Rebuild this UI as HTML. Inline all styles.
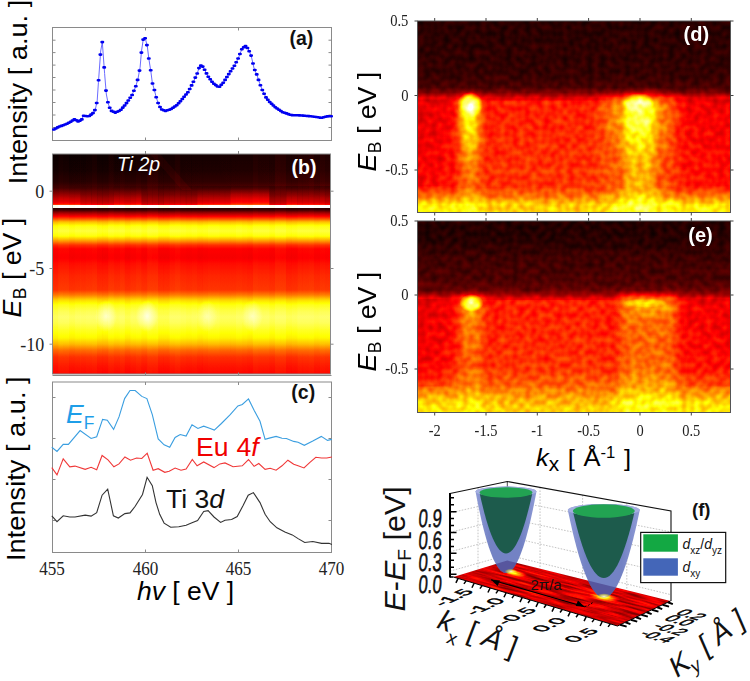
<!DOCTYPE html>
<html><head><meta charset="utf-8"><style>
html,body{margin:0;padding:0;background:#fff;width:750px;height:681px;overflow:hidden}
svg{display:block}
</style></head><body>
<svg width="750" height="681" viewBox="0 0 750 681">
<defs>
<filter id="hot" x="0" y="0" width="1" height="1" color-interpolation-filters="sRGB"><feComponentTransfer><feFuncR type="table" tableValues="0 .3333 .6667 1 1 1 1 1 1"/><feFuncG type="table" tableValues="0 0 0 0 .3333 .6667 1 1 1"/><feFuncB type="table" tableValues="0 0 0 0 0 0 0 .5 1"/></feComponentTransfer></filter>
<filter id="hotn" x="0" y="0" width="1" height="1" color-interpolation-filters="sRGB"><feOffset in="SourceGraphic" result="b"/><feTurbulence type="fractalNoise" baseFrequency="0.16" numOctaves="1" seed="3" result="n"/><feColorMatrix in="n" type="matrix" values="1 0 0 0 0  1 0 0 0 0  1 0 0 0 0  0 0 0 0 1" result="ng"/><feComposite in="b" in2="ng" operator="arithmetic" k1="0.26" k2="0.87" k3="0.1" k4="-0.05" result="s"/><feComponentTransfer in="s"><feFuncR type="table" tableValues="0 .3333 .6667 1 1 1 1 1 1"/><feFuncG type="table" tableValues="0 0 0 0 .3333 .6667 1 1 1"/><feFuncB type="table" tableValues="0 0 0 0 0 0 0 .5 1"/><feFuncA type="linear" slope="0" intercept="1"/></feComponentTransfer></filter>
<filter id="hotn2" x="0" y="0" width="1" height="1" color-interpolation-filters="sRGB"><feOffset in="SourceGraphic" result="b"/><feTurbulence type="fractalNoise" baseFrequency="0.16" numOctaves="1" seed="11" result="n"/><feColorMatrix in="n" type="matrix" values="1 0 0 0 0  1 0 0 0 0  1 0 0 0 0  0 0 0 0 1" result="ng"/><feComposite in="b" in2="ng" operator="arithmetic" k1="0.26" k2="0.87" k3="0.1" k4="-0.05" result="s"/><feComponentTransfer in="s"><feFuncR type="table" tableValues="0 .3333 .6667 1 1 1 1 1 1"/><feFuncG type="table" tableValues="0 0 0 0 .3333 .6667 1 1 1"/><feFuncB type="table" tableValues="0 0 0 0 0 0 0 .5 1"/><feFuncA type="linear" slope="0" intercept="1"/></feComponentTransfer></filter>
<filter id="bl4" x="-0.5" y="-0.5" width="2" height="2"><feGaussianBlur stdDeviation="5"/></filter>
<linearGradient id="gb" gradientUnits="userSpaceOnUse" x1="0" y1="154" x2="0" y2="374"><stop offset="0.0000" stop-color="#050505"/><stop offset="0.0727" stop-color="#080808"/><stop offset="0.1273" stop-color="#0f0f0f"/><stop offset="0.1545" stop-color="#1a1a1a"/><stop offset="0.1773" stop-color="#333333"/><stop offset="0.2000" stop-color="#4c4c4c"/><stop offset="0.2182" stop-color="#5c5c5c"/><stop offset="0.2273" stop-color="#6b6b6b"/><stop offset="0.2323" stop-color="#8c8c8c"/><stop offset="0.2327" stop-color="#ffffff"/><stop offset="0.2432" stop-color="#ffffff"/><stop offset="0.2436" stop-color="#0d0d0d"/><stop offset="0.2545" stop-color="#171717"/><stop offset="0.2682" stop-color="#3d3d3d"/><stop offset="0.2818" stop-color="#5c5c5c"/><stop offset="0.2955" stop-color="#808080"/><stop offset="0.3091" stop-color="#a8a8a8"/><stop offset="0.3273" stop-color="#c4c4c4"/><stop offset="0.3500" stop-color="#cfcfcf"/><stop offset="0.3727" stop-color="#c2c2c2"/><stop offset="0.3955" stop-color="#999999"/><stop offset="0.4136" stop-color="#737373"/><stop offset="0.4318" stop-color="#616161"/><stop offset="0.4727" stop-color="#5e5e5e"/><stop offset="0.5000" stop-color="#666666"/><stop offset="0.5500" stop-color="#6e6e6e"/><stop offset="0.6182" stop-color="#757575"/><stop offset="0.6409" stop-color="#8f8f8f"/><stop offset="0.6636" stop-color="#b2b2b2"/><stop offset="0.6864" stop-color="#c7c7c7"/><stop offset="0.7136" stop-color="#d4d4d4"/><stop offset="0.7409" stop-color="#dbdbdb"/><stop offset="0.7682" stop-color="#d6d6d6"/><stop offset="0.8000" stop-color="#c9c9c9"/><stop offset="0.8364" stop-color="#bdbdbd"/><stop offset="0.8636" stop-color="#a8a8a8"/><stop offset="0.8909" stop-color="#8a8a8a"/><stop offset="0.9227" stop-color="#737373"/><stop offset="0.9636" stop-color="#696969"/><stop offset="1.0000" stop-color="#636363"/></linearGradient>
<linearGradient id="bfg" x1="0" y1="0" x2="0" y2="1"><stop offset="0" stop-color="#000"/><stop offset="0.45" stop-color="#fff"/><stop offset="1" stop-color="#fff"/></linearGradient>
<mask id="bfade" maskContentUnits="userSpaceOnUse"><rect x="0" y="186" width="750" height="19" fill="url(#bfg)"/></mask>
<linearGradient id="bhz" x1="0" y1="0" x2="1" y2="0"><stop offset="0" stop-color="#fff" stop-opacity="0"/><stop offset="1" stop-color="#fff" stop-opacity="0.03"/></linearGradient>
<radialGradient id="wsp"><stop offset="0" stop-color="#fff" stop-opacity="0.85"/><stop offset="1" stop-color="#fff" stop-opacity="0"/></radialGradient>
<radialGradient id="rg"><stop offset="0" stop-color="#fff" stop-opacity="1"/><stop offset="0.25" stop-color="#fff" stop-opacity="0.72"/><stop offset="0.6" stop-color="#fff" stop-opacity="0.45"/><stop offset="1" stop-color="#fff" stop-opacity="0"/></radialGradient>
<linearGradient id="gd" gradientUnits="userSpaceOnUse" x1="0" y1="9" x2="0" y2="224.5"><stop offset="0.0000" stop-color="#0f0f0f"/><stop offset="0.1485" stop-color="#111111"/><stop offset="0.2993" stop-color="#141414"/><stop offset="0.3643" stop-color="#1c1c1c"/><stop offset="0.3875" stop-color="#2e2e2e"/><stop offset="0.4107" stop-color="#545454"/><stop offset="0.4385" stop-color="#616161"/><stop offset="0.6102" stop-color="#666666"/><stop offset="0.8283" stop-color="#6c6c6c"/><stop offset="0.8747" stop-color="#919191"/><stop offset="0.9072" stop-color="#b8b8b8"/><stop offset="1.0000" stop-color="#c2c2c2"/></linearGradient>
<linearGradient id="hmd" gradientUnits="userSpaceOnUse" x1="405.5" y1="0" x2="742.5" y2="0"><stop offset="0.0000" stop-color="#000" stop-opacity="0.14"/><stop offset="0.1024" stop-color="#000" stop-opacity="0.09"/><stop offset="0.1499" stop-color="#000" stop-opacity="0.0"/><stop offset="0.5772" stop-color="#000" stop-opacity="0.0"/><stop offset="0.8145" stop-color="#000" stop-opacity="0.03"/><stop offset="1.0000" stop-color="#000" stop-opacity="0.09"/></linearGradient>
<linearGradient id="mod" gradientUnits="userSpaceOnUse" x1="405.5" y1="0" x2="742.5" y2="0"><stop offset="0.1914" stop-color="#8a8a8a" stop-opacity="0"/><stop offset="0.2804" stop-color="#8a8a8a" stop-opacity="0.25"/><stop offset="0.5772" stop-color="#8a8a8a" stop-opacity="0.25"/><stop offset="0.6513" stop-color="#8a8a8a" stop-opacity="0"/></linearGradient>
<linearGradient id="lsd" gradientUnits="userSpaceOnUse" x1="0" y1="95.5" x2="0" y2="212.5"><stop offset="0.0000" stop-color="#fff" stop-opacity="0"/><stop offset="0.0342" stop-color="#fff" stop-opacity="1"/><stop offset="0.2137" stop-color="#fff" stop-opacity="0.95"/><stop offset="0.3846" stop-color="#fff" stop-opacity="0.75"/><stop offset="0.5556" stop-color="#fff" stop-opacity="0.45"/><stop offset="0.8291" stop-color="#fff" stop-opacity="0.25"/><stop offset="1.0000" stop-color="#fff" stop-opacity="0.3"/></linearGradient>
<linearGradient id="rsd" gradientUnits="userSpaceOnUse" x1="0" y1="95.5" x2="0" y2="212.5"><stop offset="0.0000" stop-color="#fff" stop-opacity="0"/><stop offset="0.0256" stop-color="#fff" stop-opacity="1"/><stop offset="0.2564" stop-color="#fff" stop-opacity="0.95"/><stop offset="0.3846" stop-color="#fff" stop-opacity="0.72"/><stop offset="0.5556" stop-color="#fff" stop-opacity="0.52"/><stop offset="0.8291" stop-color="#fff" stop-opacity="0.42"/><stop offset="1.0000" stop-color="#fff" stop-opacity="0.45"/></linearGradient>
<linearGradient id="ge" gradientUnits="userSpaceOnUse" x1="0" y1="209" x2="0" y2="424.5"><stop offset="0.0000" stop-color="#0d0d0d"/><stop offset="0.1485" stop-color="#0f0f0f"/><stop offset="0.2135" stop-color="#171717"/><stop offset="0.3295" stop-color="#1d1d1d"/><stop offset="0.3759" stop-color="#262626"/><stop offset="0.3944" stop-color="#383838"/><stop offset="0.4130" stop-color="#575757"/><stop offset="0.4362" stop-color="#616161"/><stop offset="0.6079" stop-color="#666666"/><stop offset="0.7355" stop-color="#6b6b6b"/><stop offset="0.8283" stop-color="#878787"/><stop offset="0.8979" stop-color="#b2b2b2"/><stop offset="1.0000" stop-color="#c2c2c2"/></linearGradient>
<linearGradient id="hme" gradientUnits="userSpaceOnUse" x1="405.5" y1="0" x2="742.5" y2="0"><stop offset="0.0000" stop-color="#000" stop-opacity="0.14"/><stop offset="0.1024" stop-color="#000" stop-opacity="0.09"/><stop offset="0.1499" stop-color="#000" stop-opacity="0.0"/><stop offset="0.5772" stop-color="#000" stop-opacity="0.0"/><stop offset="0.8145" stop-color="#000" stop-opacity="0.03"/><stop offset="1.0000" stop-color="#000" stop-opacity="0.09"/></linearGradient>
<linearGradient id="moe" gradientUnits="userSpaceOnUse" x1="405.5" y1="0" x2="742.5" y2="0"><stop offset="0.1914" stop-color="#8a8a8a" stop-opacity="0"/><stop offset="0.2804" stop-color="#8a8a8a" stop-opacity="0.25"/><stop offset="0.5772" stop-color="#8a8a8a" stop-opacity="0.25"/><stop offset="0.6513" stop-color="#8a8a8a" stop-opacity="0"/></linearGradient>
<linearGradient id="lse" gradientUnits="userSpaceOnUse" x1="0" y1="295" x2="0" y2="412.5"><stop offset="0.0000" stop-color="#fff" stop-opacity="0"/><stop offset="0.0340" stop-color="#fff" stop-opacity="1"/><stop offset="0.2128" stop-color="#fff" stop-opacity="0.75"/><stop offset="0.5106" stop-color="#fff" stop-opacity="0.45"/><stop offset="0.8298" stop-color="#fff" stop-opacity="0.3"/><stop offset="1.0000" stop-color="#fff" stop-opacity="0.3"/></linearGradient>
<linearGradient id="rse" gradientUnits="userSpaceOnUse" x1="0" y1="295" x2="0" y2="412.5"><stop offset="0.0000" stop-color="#fff" stop-opacity="0"/><stop offset="0.0255" stop-color="#fff" stop-opacity="1"/><stop offset="0.2128" stop-color="#fff" stop-opacity="0.55"/><stop offset="0.5106" stop-color="#fff" stop-opacity="0.45"/><stop offset="0.8298" stop-color="#fff" stop-opacity="0.5"/><stop offset="1.0000" stop-color="#fff" stop-opacity="0.5"/></linearGradient>
<clipPath id="flc"><polygon points="453.3,577 507.3,560.5 670.5,601 617.5,626"/></clipPath>
<filter id="flhot" x="0" y="0" width="1" height="1" color-interpolation-filters="sRGB"><feTurbulence type="fractalNoise" baseFrequency="0.035 0.28" numOctaves="2" seed="9" result="n"/><feColorMatrix in="n" type="matrix" values="1 0 0 0 0  1 0 0 0 0  1 0 0 0 0  0 0 0 0 1" result="ng"/><feComposite in="SourceGraphic" in2="ng" operator="arithmetic" k1="0" k2="1" k3="0.42" k4="-0.21" result="s"/><feComponentTransfer in="s"><feFuncR type="table" tableValues="0 .3333 .6667 1 1 1 1 1 1"/><feFuncG type="table" tableValues="0 0 0 0 .3333 .6667 1 1 1"/><feFuncB type="table" tableValues="0 0 0 0 0 0 0 .5 1"/><feFuncA type="linear" slope="0" intercept="1"/></feComponentTransfer></filter>
<radialGradient id="frg"><stop offset="0" stop-color="#fff" stop-opacity="1"/><stop offset="0.4" stop-color="#fff" stop-opacity="0.55"/><stop offset="1" stop-color="#fff" stop-opacity="0"/></radialGradient>
<clipPath id="cfl"><polygon points="453.3,577 507.3,560.5 670.5,601 617.5,626 700,640 420,640"/></clipPath>
<linearGradient id="bluec" x1="0" y1="0" x2="1" y2="0"><stop offset="0" stop-color="#8f9bd6"/><stop offset="0.25" stop-color="#7382c4"/><stop offset="0.75" stop-color="#7382c4"/><stop offset="1" stop-color="#8f9bd6"/></linearGradient>
<radialGradient id="tipg"><stop offset="0" stop-color="#ffffe0" stop-opacity="1"/><stop offset="0.5" stop-color="#ffff50" stop-opacity="0.7"/><stop offset="1" stop-color="#ffff00" stop-opacity="0"/></radialGradient>
</defs>
<rect width="750" height="681" fill="#fff"/>
<rect x="52.5" y="27.5" width="279.0" height="113.0" fill="none" stroke="#8a8a8a" stroke-width="1"/>
<path d="M52.5,40.2h3M331.5,40.2h-3M52.5,52.6h3M331.5,52.6h-3M52.5,65.1h3M331.5,65.1h-3M52.5,77.5h3M331.5,77.5h-3M52.5,90h3M331.5,90h-3M52.5,102.5h3M331.5,102.5h-3M52.5,115h3M331.5,115h-3M52.5,127.5h3M331.5,127.5h-3M145.5,27.5v3M145.5,140.5v-3M238.5,27.5v3M238.5,140.5v-3" stroke="#8a8a8a" stroke-width="1" fill="none"/>
<polyline points="52.6,130.3 58.8,126.8 67.6,123.6 74.6,119.2 78.2,121.5 81.7,119.7 83.5,115.7 88.7,116.5 93.1,113 95.4,109.2 97.2,100.7 98.4,82.7 100.7,51 102.3,42.1 104.6,73.4 106.3,94 108.1,103.3 110.7,110.4 115.1,112.7 120.4,110.4 125.7,104.2 131.9,95.4 135.7,86.6 138,78.7 140.1,67.3 141.5,51 143.3,39.1 145.3,38.2 147.4,47 148.8,58.5 150.9,71.7 152.3,82.7 154.4,90.1 156.2,97.2 158.5,104.2 161.1,109.2 165.5,110.9 170.8,109.2 177,105.1 183.1,98.1 188.4,91.5 192.8,83.1 197.2,73.4 199.3,67.3 201.3,65.1 203.4,67.3 207.8,76.1 213.1,83.1 218.9,87.5 223.6,82.2 229.8,72.5 235.1,64.6 238.5,57.6 242,48.8 245.2,45.8 248.2,48.8 251.2,55.8 254,68.1 257,75.2 259.6,83.1 262.3,90.1 265.8,97.2 269.3,101.6 275.5,107.4 282.5,112.1 291.3,115.1 301.9,115.5 312.5,116.5 321.3,117.8 326.5,116.5 331.5,116.2" fill="none" stroke="#5a5aff" stroke-width="0.9"/>
<path d="M53.2,129.5h1.4M55.1,128.5h1.4M57,127.4h1.4M58.8,126.5h1.4M60.7,125.9h1.4M62.5,125.2h1.4M64.4,124.5h1.4M66.3,123.8h1.4M68.1,122.8h1.4M70,121.7h1.4M71.8,120.5h1.4M73.7,119.3h1.4M75.6,120.3h1.4M77.4,121.4h1.4M79.3,120.6h1.4M81.1,119.4h1.4M83,115.7h1.4M84.9,116h1.4M86.7,116.3h1.4M88.6,116h1.4M90.4,114.6h1.4M92.3,113.1h1.4M94.2,110.1h1.4M96,103h1.4M97.9,80.2h1.4M99.7,54.6h1.4M101.6,42.1h1.4M103.5,67.4h1.4M105.3,90.6h1.4M107.2,102.2h1.4M109,107.8h1.4M110.9,110.9h1.4M112.8,111.8h1.4M114.6,112.6h1.4M116.5,111.8h1.4M118.3,111h1.4M120.2,109.8h1.4M122.1,107.6h1.4M123.9,105.5h1.4M125.8,103.1h1.4M127.6,100.5h1.4M129.5,97.8h1.4M131.4,95h1.4M133.2,90.7h1.4M135.1,86.3h1.4M136.9,79.9h1.4M138.8,70.6h1.4M140.7,52.6h1.4M142.5,39.6h1.4M144.4,38.3h1.4M146.2,45.1h1.4M148.1,58.5h1.4M150,70.2h1.4M151.8,83.5h1.4M153.7,90h1.4M155.5,97.3h1.4M157.4,103h1.4M159.3,107h1.4M161.1,109.5h1.4M163,110.2h1.4M164.8,110.9h1.4M166.7,110.3h1.4M168.6,109.7h1.4M170.4,109h1.4M172.3,107.8h1.4M174.1,106.5h1.4M176,105.3h1.4M177.9,103.3h1.4M179.7,101.2h1.4M181.6,99h1.4M183.4,96.8h1.4M185.3,94.5h1.4M187.2,92.2h1.4M189,89h1.4M190.9,85.4h1.4M192.7,81.7h1.4M194.6,77.6h1.4M196.5,73.5h1.4M198.3,68.1h1.4M200.2,65.6h1.4M202,66.6h1.4M203.9,69.7h1.4M205.8,73.4h1.4M207.6,76.8h1.4M209.5,79.2h1.4M211.3,81.7h1.4M213.2,83.7h1.4M215.1,85.1h1.4M216.9,86.5h1.4M218.8,86.8h1.4M220.6,84.7h1.4M222.5,82.7h1.4M224.4,79.9h1.4M226.2,77h1.4M228.1,74.1h1.4M229.9,71.2h1.4M231.8,68.5h1.4M233.7,65.7h1.4M235.5,62.3h1.4M237.4,58.5h1.4M239.2,54h1.4M241.1,49.3h1.4M243,47.2h1.4M244.8,46.1h1.4M246.7,48h1.4M248.5,51.2h1.4M250.4,55.6h1.4M252.3,63.5h1.4M254.1,70h1.4M256,74.4h1.4M257.8,79.9h1.4M259.7,85.2h1.4M261.6,90h1.4M263.4,93.8h1.4M265.3,97.4h1.4M267.1,99.8h1.4M269,102h1.4M270.9,103.7h1.4M272.7,105.5h1.4M274.6,107.2h1.4M276.4,108.5h1.4M278.3,109.8h1.4M280.2,111h1.4M282,112.2h1.4M283.9,112.8h1.4M285.7,113.4h1.4M287.6,114.1h1.4M289.5,114.7h1.4M291.3,115.1h1.4M293.2,115.2h1.4M295,115.3h1.4M296.9,115.3h1.4M298.8,115.4h1.4M300.6,115.5h1.4M302.5,115.6h1.4M304.3,115.8h1.4M306.2,116h1.4M308.1,116.1h1.4M309.9,116.3h1.4M311.8,116.5h1.4M313.6,116.8h1.4M315.5,117h1.4M317.4,117.3h1.4M319.2,117.6h1.4M321.1,117.7h1.4M322.9,117.2h1.4M324.8,116.7h1.4M326.7,116.4h1.4M328.5,116.3h1.4M330.4,116.2h1.4" stroke="#0000f0" stroke-width="2.6" stroke-linecap="round" fill="none"/>
<text x="289.5" y="44.6" style="font-family:'Liberation Sans',sans-serif;font-weight:bold;font-size:19.5px" fill="#111">(a)</text>
<text transform="translate(26.9,184.3) rotate(-90) scale(1.02,1)" style="font-family:'Liberation Sans',sans-serif;font-size:26.7px" fill="#000">Intensity [ a.u. ]</text>
<g filter="url(#hot)"><rect x="52.5" y="154" width="278.0" height="220" fill="url(#gb)"/><rect x="52.5" y="154" width="5.8" height="220" fill="#000" opacity="0.019"/><rect x="58.1" y="154" width="5.8" height="220" fill="#fff" opacity="0.013"/><rect x="63.6" y="154" width="5.8" height="220" fill="#fff" opacity="0.009"/><rect x="69.2" y="154" width="5.8" height="220" fill="#000" opacity="0.014"/><rect x="74.7" y="154" width="5.8" height="220" fill="#000" opacity="0.003"/><rect x="80.3" y="154" width="5.8" height="220" fill="#000" opacity="0.005"/><rect x="85.9" y="154" width="5.8" height="220" fill="#fff" opacity="0.004"/><rect x="91.4" y="154" width="5.8" height="220" fill="#fff" opacity="0.010"/><rect x="97" y="154" width="5.8" height="220" fill="#000" opacity="0.021"/><rect x="102.5" y="154" width="5.8" height="220" fill="#000" opacity="0.024"/><rect x="108.1" y="154" width="5.8" height="220" fill="#fff" opacity="0.013"/><rect x="113.7" y="154" width="5.8" height="220" fill="#000" opacity="0.006"/><rect x="119.2" y="154" width="5.8" height="220" fill="#fff" opacity="0.009"/><rect x="124.8" y="154" width="5.8" height="220" fill="#000" opacity="0.025"/><rect x="130.3" y="154" width="5.8" height="220" fill="#000" opacity="0.005"/><rect x="135.9" y="154" width="5.8" height="220" fill="#fff" opacity="0.007"/><rect x="141.5" y="154" width="5.8" height="220" fill="#000" opacity="0.015"/><rect x="147" y="154" width="5.8" height="220" fill="#fff" opacity="0.018"/><rect x="152.6" y="154" width="5.8" height="220" fill="#fff" opacity="0.016"/><rect x="158.1" y="154" width="5.8" height="220" fill="#000" opacity="0.024"/><rect x="163.7" y="154" width="5.8" height="220" fill="#000" opacity="0.024"/><rect x="169.3" y="154" width="5.8" height="220" fill="#000" opacity="0.001"/><rect x="174.8" y="154" width="5.8" height="220" fill="#fff" opacity="0.017"/><rect x="180.4" y="154" width="5.8" height="220" fill="#000" opacity="0.008"/><rect x="185.9" y="154" width="5.8" height="220" fill="#000" opacity="0.015"/><rect x="191.5" y="154" width="5.8" height="220" fill="#000" opacity="0.006"/><rect x="197.1" y="154" width="5.8" height="220" fill="#000" opacity="0.024"/><rect x="202.6" y="154" width="5.8" height="220" fill="#000" opacity="0.015"/><rect x="208.2" y="154" width="5.8" height="220" fill="#000" opacity="0.005"/><rect x="213.7" y="154" width="5.8" height="220" fill="#000" opacity="0.003"/><rect x="219.3" y="154" width="5.8" height="220" fill="#000" opacity="0.015"/><rect x="224.9" y="154" width="5.8" height="220" fill="#000" opacity="0.015"/><rect x="230.4" y="154" width="5.8" height="220" fill="#000" opacity="0.015"/><rect x="236" y="154" width="5.8" height="220" fill="#000" opacity="0.004"/><rect x="241.5" y="154" width="5.8" height="220" fill="#000" opacity="0.012"/><rect x="247.1" y="154" width="5.8" height="220" fill="#000" opacity="0.024"/><rect x="252.7" y="154" width="5.8" height="220" fill="#fff" opacity="0.013"/><rect x="258.2" y="154" width="5.8" height="220" fill="#fff" opacity="0.000"/><rect x="263.8" y="154" width="5.8" height="220" fill="#fff" opacity="0.004"/><rect x="269.3" y="154" width="5.8" height="220" fill="#000" opacity="0.017"/><rect x="274.9" y="154" width="5.8" height="220" fill="#fff" opacity="0.020"/><rect x="280.5" y="154" width="5.8" height="220" fill="#fff" opacity="0.014"/><rect x="286" y="154" width="5.8" height="220" fill="#000" opacity="0.020"/><rect x="291.6" y="154" width="5.8" height="220" fill="#000" opacity="0.010"/><rect x="297.1" y="154" width="5.8" height="220" fill="#fff" opacity="0.007"/><rect x="302.7" y="154" width="5.8" height="220" fill="#fff" opacity="0.007"/><rect x="308.3" y="154" width="5.8" height="220" fill="#fff" opacity="0.017"/><rect x="313.8" y="154" width="5.8" height="220" fill="#000" opacity="0.006"/><rect x="319.4" y="154" width="5.8" height="220" fill="#fff" opacity="0.012"/><rect x="324.9" y="154" width="5.8" height="220" fill="#fff" opacity="0.005"/><rect x="52.5" y="186" width="5.8" height="19" fill="#000" opacity="0.045" mask="url(#bfade)"/><rect x="58.1" y="186" width="5.8" height="19" fill="#000" opacity="0.045" mask="url(#bfade)"/><rect x="63.6" y="186" width="5.8" height="19" fill="#000" opacity="0.045" mask="url(#bfade)"/><rect x="69.2" y="186" width="5.8" height="19" fill="#000" opacity="0.045" mask="url(#bfade)"/><rect x="74.7" y="186" width="5.8" height="19" fill="#000" opacity="0.045" mask="url(#bfade)"/><rect x="80.3" y="186" width="5.8" height="19" fill="#000" opacity="0.183" mask="url(#bfade)"/><rect x="85.9" y="186" width="5.8" height="19" fill="#000" opacity="0.183" mask="url(#bfade)"/><rect x="91.4" y="186" width="5.8" height="19" fill="#000" opacity="0.211" mask="url(#bfade)"/><rect x="97" y="186" width="5.8" height="19" fill="#000" opacity="0.211" mask="url(#bfade)"/><rect x="102.5" y="186" width="5.8" height="19" fill="#000" opacity="0.211" mask="url(#bfade)"/><rect x="108.1" y="186" width="5.8" height="19" fill="#000" opacity="0.211" mask="url(#bfade)"/><rect x="113.7" y="186" width="5.8" height="19" fill="#000" opacity="0.104" mask="url(#bfade)"/><rect x="119.2" y="186" width="5.8" height="19" fill="#000" opacity="0.104" mask="url(#bfade)"/><rect x="124.8" y="186" width="5.8" height="19" fill="#000" opacity="0.104" mask="url(#bfade)"/><rect x="130.3" y="186" width="5.8" height="19" fill="#000" opacity="0.104" mask="url(#bfade)"/><rect x="135.9" y="186" width="5.8" height="19" fill="#000" opacity="0.084" mask="url(#bfade)"/><rect x="141.5" y="186" width="5.8" height="19" fill="#000" opacity="0.263" mask="url(#bfade)"/><rect x="147" y="186" width="5.8" height="19" fill="#000" opacity="0.263" mask="url(#bfade)"/><rect x="152.6" y="186" width="5.8" height="19" fill="#000" opacity="0.263" mask="url(#bfade)"/><rect x="158.1" y="186" width="5.8" height="19" fill="#000" opacity="0.263" mask="url(#bfade)"/><rect x="163.7" y="186" width="5.8" height="19" fill="#000" opacity="0.212" mask="url(#bfade)"/><rect x="169.3" y="186" width="5.8" height="19" fill="#000" opacity="0.212" mask="url(#bfade)"/><rect x="174.8" y="186" width="5.8" height="19" fill="#000" opacity="0.212" mask="url(#bfade)"/><rect x="180.4" y="186" width="5.8" height="19" fill="#000" opacity="0.212" mask="url(#bfade)"/><rect x="185.9" y="186" width="5.8" height="19" fill="#000" opacity="0.212" mask="url(#bfade)"/><rect x="191.5" y="186" width="5.8" height="19" fill="#000" opacity="0.212" mask="url(#bfade)"/><rect x="197.1" y="186" width="5.8" height="19" fill="#000" opacity="0.074" mask="url(#bfade)"/><rect x="202.6" y="186" width="5.8" height="19" fill="#000" opacity="0.074" mask="url(#bfade)"/><rect x="208.2" y="186" width="5.8" height="19" fill="#000" opacity="0.074" mask="url(#bfade)"/><rect x="213.7" y="186" width="5.8" height="19" fill="#000" opacity="0.074" mask="url(#bfade)"/><rect x="219.3" y="186" width="5.8" height="19" fill="#000" opacity="0.061" mask="url(#bfade)"/><rect x="224.9" y="186" width="5.8" height="19" fill="#000" opacity="0.061" mask="url(#bfade)"/><rect x="230.4" y="186" width="5.8" height="19" fill="#fff" opacity="0.033" mask="url(#bfade)"/><rect x="236" y="186" width="5.8" height="19" fill="#fff" opacity="0.033" mask="url(#bfade)"/><rect x="241.5" y="186" width="5.8" height="19" fill="#fff" opacity="0.033" mask="url(#bfade)"/><rect x="247.1" y="186" width="5.8" height="19" fill="#fff" opacity="0.033" mask="url(#bfade)"/><rect x="252.7" y="186" width="5.8" height="19" fill="#fff" opacity="0.033" mask="url(#bfade)"/><rect x="258.2" y="186" width="5.8" height="19" fill="#fff" opacity="0.033" mask="url(#bfade)"/><rect x="263.8" y="186" width="5.8" height="19" fill="#fff" opacity="0.033" mask="url(#bfade)"/><rect x="269.3" y="186" width="5.8" height="19" fill="#000" opacity="0.258" mask="url(#bfade)"/><rect x="274.9" y="186" width="5.8" height="19" fill="#000" opacity="0.258" mask="url(#bfade)"/><rect x="280.5" y="186" width="5.8" height="19" fill="#000" opacity="0.258" mask="url(#bfade)"/><rect x="286" y="186" width="5.8" height="19" fill="#000" opacity="0.078" mask="url(#bfade)"/><rect x="291.6" y="186" width="5.8" height="19" fill="#000" opacity="0.078" mask="url(#bfade)"/><rect x="297.1" y="186" width="5.8" height="19" fill="#000" opacity="0.142" mask="url(#bfade)"/><rect x="302.7" y="186" width="5.8" height="19" fill="#000" opacity="0.142" mask="url(#bfade)"/><rect x="308.3" y="186" width="5.8" height="19" fill="#000" opacity="0.142" mask="url(#bfade)"/><rect x="313.8" y="186" width="5.8" height="19" fill="#000" opacity="0.142" mask="url(#bfade)"/><rect x="319.4" y="186" width="5.8" height="19" fill="#000" opacity="0.142" mask="url(#bfade)"/><rect x="324.9" y="186" width="5.8" height="19" fill="#000" opacity="0.188" mask="url(#bfade)"/><rect x="52.5" y="154" width="278.0" height="32" fill="url(#bhz)"/><path d="M150,154L160,154L192,190L182,190Z" fill="#fff" opacity="0.025"/><ellipse cx="106" cy="316" rx="11" ry="16" fill="url(#wsp)" opacity="0.8"/><ellipse cx="147" cy="316" rx="11" ry="16" fill="url(#wsp)" opacity="0.95"/><ellipse cx="207" cy="316" rx="11" ry="16" fill="url(#wsp)" opacity="0.55"/><ellipse cx="252" cy="316" rx="11" ry="16" fill="url(#wsp)" opacity="0.7"/></g>
<rect x="52.5" y="154" width="278.0" height="220" fill="none" stroke="#8a8a8a" stroke-width="1"/>
<path d="M52.5,191.2h-3M330.5,191.2h3M52.5,268.5h-3M330.5,268.5h3M52.5,344.2h-3M330.5,344.2h3M145.5,154v-3M238.5,154v-3" stroke="#8a8a8a" stroke-width="1" fill="none"/>
<path d="M52.5,375.5H331.5M145.5,375.5v-3M238.5,375.5v-3" stroke="#8a8a8a" stroke-width="1" fill="none"/>
<text x="117" y="170.5" style="font-family:'Liberation Sans',sans-serif;font-style:italic;font-size:19.5px" fill="#fff">Ti 2p</text>
<text x="291.5" y="173.7" style="font-family:'Liberation Sans',sans-serif;font-weight:bold;font-size:19.5px" fill="#fff">(b)</text>
<text x="44.3" y="197.5" text-anchor="end" style="font-family:'Liberation Serif',serif;font-size:18px" fill="#222">0</text>
<text x="44.3" y="274.8" text-anchor="end" style="font-family:'Liberation Serif',serif;font-size:18px" fill="#222">-5</text>
<text x="44.3" y="350.5" text-anchor="end" style="font-family:'Liberation Serif',serif;font-size:18px" fill="#222">-10</text>
<text transform="translate(20.6,317.5) rotate(-90)" style="font-family:'Liberation Sans',sans-serif;font-size:26.7px" fill="#000"><tspan style="font-style:italic">E</tspan><tspan dy="5" style="font-size:17.5px" dx="0.5">B</tspan><tspan dy="-5"> [ eV ]</tspan></text>
<rect x="52.5" y="382" width="279.0" height="170.5" fill="none" stroke="#8a8a8a" stroke-width="1"/>
<path d="M52.5,397.5h3M331.5,397.5h-3M52.5,438.5h3M331.5,438.5h-3M52.5,479.5h3M331.5,479.5h-3M52.5,520.5h3M331.5,520.5h-3M145.5,382v3M145.5,552.5v-3M238.5,382v3M238.5,552.5v-3" stroke="#8a8a8a" stroke-width="1" fill="none"/>
<polyline points="51.8,447.3 57,451.4 63.2,444.4 68.4,444.4 80.1,430.6 91.1,438.5 96.7,436.7 102.6,419.4 107.3,420.3 113.6,429.4 119,416.9 124.6,398.6 130,390.5 135.2,390.5 141.8,396.4 146.9,398.6 152.3,414.7 158.2,438.9 164.1,444.8 169.7,447.3 175.1,437.5 180.2,434.5 186.1,436 192,424.7 197.9,428.4 203.7,426.2 209.6,428.2 214.3,430.1 221.4,423.5 230.2,414.7 237.9,405.9 242.3,404.4 248.5,398.9 254.1,410.3 260,421.3 265.1,439.4 270.2,437.9 276.1,436.4 282,438.2 286.4,438.5 293.7,441.4 298.1,442.3 304.3,445.3 312.8,441.1 321.3,436.4 327.5,440.4 331.9,439.4" fill="none" stroke="#3a9ee0" stroke-width="1.1"/>
<polyline points="51.8,467.6 57,474.9 63.2,458.8 69.8,466.8 75,466.1 85.2,469.3 91.1,467.3 96.7,469.8 102.1,455.5 108,459.9 113.9,466.8 119,463.9 124.9,457 130.5,460.2 136.6,458 141.8,458.5 147.2,453.2 153.1,470.2 158.2,468.7 164.8,472.3 169.2,471.2 175.1,468 181,470.2 186.1,469 192.3,459.5 197.1,465.8 203.7,462 214,467.6 219.9,463.9 225,462.9 233.1,466.8 242.3,465.8 248.5,459.5 254.1,466.4 258.8,463.5 265.1,469.3 270.2,468.3 276.1,470.2 282,465.8 287.9,460.2 293.7,464.3 298.1,465.8 304,467.9 309.9,462.4 315.8,457.3 321.6,458 326.8,458 331.9,457" fill="none" stroke="#f03838" stroke-width="1.1"/>
<polyline points="51.8,515.8 57,521.7 63.2,515.8 69.8,517 75,517 85.2,515.1 91.1,516.1 96.7,512.6 102.1,495.2 107.7,489.1 113.4,515.8 118.3,518 124.9,513.6 130,512.9 135.2,506.3 142.5,494.5 147.1,477.3 152.3,485.7 156,502.6 159.7,514.3 164.1,523.1 170.7,527.3 178.8,526.8 186.1,525.3 192,522.8 197.6,520.5 203.7,511.4 208.1,510.7 214,517 220.6,522.4 225,520.2 231.6,519.5 237.2,516.5 243.1,505.5 248.2,495.2 253.4,492.6 260,502.6 265.1,514.3 270.2,521.7 276.9,527.8 284.9,532 292.3,534.9 298.1,538.6 304.7,542.5 312.8,541.5 321.6,543.4 329,543.3 331.9,544.4" fill="none" stroke="#333" stroke-width="1.1"/>
<text x="291.3" y="398.8" style="font-family:'Liberation Sans',sans-serif;font-weight:bold;font-size:19.5px" fill="#111">(c)</text>
<text x="66" y="423.2" style="font-family:'Liberation Sans',sans-serif;font-style:italic;font-size:26.5px" fill="#1e9ee8">E<tspan style="font-style:normal;font-size:17.5px" dy="5.5">F</tspan></text>
<text transform="translate(196,455.5) scale(1.05,1)" style="font-family:'Liberation Sans',sans-serif;font-size:25.3px;word-spacing:0.5px" fill="#f00000">Eu 4<tspan style="font-style:italic">f</tspan></text>
<text x="166" y="508.2" style="font-family:'Liberation Sans',sans-serif;font-size:26.5px" fill="#111">Ti 3<tspan style="font-style:italic">d</tspan></text>
<text transform="translate(52,574.7) scale(0.94,1)" text-anchor="middle" style="font-family:'Liberation Serif',serif;font-size:18.2px" fill="#222">455</text>
<text transform="translate(145.5,574.7) scale(0.94,1)" text-anchor="middle" style="font-family:'Liberation Serif',serif;font-size:18.2px" fill="#222">460</text>
<text transform="translate(238.5,574.7) scale(0.94,1)" text-anchor="middle" style="font-family:'Liberation Serif',serif;font-size:18.2px" fill="#222">465</text>
<text transform="translate(331.5,574.7) scale(0.94,1)" text-anchor="middle" style="font-family:'Liberation Serif',serif;font-size:18.2px" fill="#222">470</text>
<text x="137" y="599.8" style="font-family:'Liberation Sans',sans-serif;font-size:26.5px" fill="#000"><tspan style="font-style:italic">hv</tspan> [ eV ]</text>
<text transform="translate(24.7,561) rotate(-90) scale(1.02,1)" style="font-family:'Liberation Sans',sans-serif;font-size:26.7px" fill="#000">Intensity [ a.u. ]</text>
<clipPath id="cpd"><rect x="417.5" y="21" width="313.0" height="191.5"/></clipPath>
<g clip-path="url(#cpd)"><g filter="url(#hotn)"><rect x="405.5" y="9" width="337.0" height="215.5" fill="url(#gd)"/><rect x="405.5" y="99.5" width="337.0" height="87.0" fill="url(#hmd)"/><rect x="405.5" y="100.5" width="337.0" height="112.0" fill="url(#mod)"/><g filter="url(#bl4)"><rect x="461" y="95.5" width="18" height="117.0" fill="url(#lsd)" opacity="0.7"/><rect x="624" y="95.5" width="31" height="117.0" fill="url(#rsd)" opacity="0.62"/><rect x="598" y="95.5" width="82" height="117.0" fill="url(#rsd)" opacity="0.13"/><rect x="608" y="95.5" width="64" height="117.0" fill="url(#rsd)" opacity="0.18"/></g><ellipse cx="470" cy="105" rx="13" ry="13" fill="url(#rg)"/><ellipse cx="639" cy="103" rx="16" ry="10" fill="url(#rg)" opacity="0.7"/></g></g>
<rect x="417.5" y="21" width="313.0" height="191.5" fill="none" stroke="#555" stroke-width="1"/>
<path d="M434.7,21v-3M434.7,212.5v3M486,21v-3M486,212.5v3M537.3,21v-3M537.3,212.5v3M588.6,21v-3M588.6,212.5v3M640,21v-3M640,212.5v3M691.3,21v-3M691.3,212.5v3M417.5,21h-3M730.5,21h3M417.5,95.5h-3M730.5,95.5h3M417.5,170.0h-3M730.5,170.0h3" stroke="#444" stroke-width="1" fill="none"/>
<text transform="translate(408.4,26.4) scale(0.91,1)" text-anchor="end" style="font-family:'Liberation Serif',serif;font-size:16px" fill="#222">0.5</text>
<text transform="translate(408.4,100.9) scale(0.91,1)" text-anchor="end" style="font-family:'Liberation Serif',serif;font-size:16px" fill="#222">0</text>
<text transform="translate(408.4,175.4) scale(0.91,1)" text-anchor="end" style="font-family:'Liberation Serif',serif;font-size:16px" fill="#222">-0.5</text>
<text transform="translate(376.4,171.5) rotate(-90)" style="font-family:'Liberation Sans',sans-serif;font-size:26.7px" fill="#000"><tspan style="font-style:italic">E</tspan><tspan dy="5" style="font-size:17.5px" dx="0.5">B</tspan><tspan dy="-5"> [ eV ]</tspan></text>
<clipPath id="cpe"><rect x="417.5" y="221" width="313.0" height="191.5"/></clipPath>
<g clip-path="url(#cpe)"><g filter="url(#hotn2)"><rect x="405.5" y="209" width="337.0" height="215.5" fill="url(#ge)"/><rect x="405.5" y="299" width="337.0" height="87.5" fill="url(#hme)"/><rect x="405.5" y="300" width="337.0" height="112.5" fill="url(#moe)"/><g filter="url(#bl4)"><rect x="460" y="295" width="22" height="117.5" fill="url(#lse)" opacity="0.42"/><rect x="620" y="295" width="56" height="117.5" fill="url(#rse)" opacity="0.45"/></g><ellipse cx="471.5" cy="303" rx="12" ry="9" fill="url(#rg)"/><ellipse cx="645" cy="303" rx="22" ry="5" fill="url(#rg)" opacity="0.45"/></g></g>
<rect x="417.5" y="221" width="313.0" height="191.5" fill="none" stroke="#555" stroke-width="1"/>
<path d="M434.7,221v-3M434.7,412.5v3M486,221v-3M486,412.5v3M537.3,221v-3M537.3,412.5v3M588.6,221v-3M588.6,412.5v3M640,221v-3M640,412.5v3M691.3,221v-3M691.3,412.5v3M417.5,221h-3M730.5,221h3M417.5,295h-3M730.5,295h3M417.5,369h-3M730.5,369h3" stroke="#444" stroke-width="1" fill="none"/>
<text transform="translate(408.4,226.4) scale(0.91,1)" text-anchor="end" style="font-family:'Liberation Serif',serif;font-size:16px" fill="#222">0.5</text>
<text transform="translate(408.4,300.4) scale(0.91,1)" text-anchor="end" style="font-family:'Liberation Serif',serif;font-size:16px" fill="#222">0</text>
<text transform="translate(408.4,374.4) scale(0.91,1)" text-anchor="end" style="font-family:'Liberation Serif',serif;font-size:16px" fill="#222">-0.5</text>
<text transform="translate(376.4,371.5) rotate(-90)" style="font-family:'Liberation Sans',sans-serif;font-size:26.7px" fill="#000"><tspan style="font-style:italic">E</tspan><tspan dy="5" style="font-size:17.5px" dx="0.5">B</tspan><tspan dy="-5"> [ eV ]</tspan></text>
<text x="683.5" y="41.2" style="font-family:'Liberation Sans',sans-serif;font-weight:bold;font-size:20px" fill="#fff">(d)</text>
<text x="688.3" y="242.2" style="font-family:'Liberation Sans',sans-serif;font-weight:bold;font-size:20px" fill="#fff">(e)</text>
<text transform="translate(434.7,435.8) scale(0.9,1)" text-anchor="middle" style="font-family:'Liberation Serif',serif;font-size:16px" fill="#222">-2</text>
<text transform="translate(486,435.8) scale(0.9,1)" text-anchor="middle" style="font-family:'Liberation Serif',serif;font-size:16px" fill="#222">-1.5</text>
<text transform="translate(537.3,435.8) scale(0.9,1)" text-anchor="middle" style="font-family:'Liberation Serif',serif;font-size:16px" fill="#222">-1</text>
<text transform="translate(588.6,435.8) scale(0.9,1)" text-anchor="middle" style="font-family:'Liberation Serif',serif;font-size:16px" fill="#222">-0.5</text>
<text transform="translate(640,435.8) scale(0.9,1)" text-anchor="middle" style="font-family:'Liberation Serif',serif;font-size:16px" fill="#222">0</text>
<text transform="translate(691.3,435.8) scale(0.9,1)" text-anchor="middle" style="font-family:'Liberation Serif',serif;font-size:16px" fill="#222">0.5</text>
<text x="536" y="466.4" style="font-family:'Liberation Sans',sans-serif;font-size:24.5px;word-spacing:1.5px" fill="#000" transform="translate(536,466.4) scale(1.04,1) translate(-536,-466.4)"><tspan style="font-style:italic">k</tspan><tspan style="font-size:20px" dy="5">x</tspan><tspan dy="-5"> [ Å</tspan><tspan style="font-size:16px" dy="-8">-1</tspan><tspan dy="8"> ]</tspan></text>
<polygon points="450,493.5 507.3,481.5 507.3,560.5 453.3,577" fill="#fff"/>
<polygon points="507.3,481.5 671,511 670.5,601 507.3,560.5" fill="#fff"/>
<path d="M450,512.92L507.3,499.87L671,531.93M450,532.34L507.3,518.24L671,552.86M450,551.76L507.3,536.62L671,573.79M450,571.17L507.3,554.99L671,594.72M540.04,487.4V568.6M582.6,495.07V579.13M626.8,503.04V590.07M478,487.64V569.45" stroke="#b5b5b5" stroke-width="0.8" stroke-dasharray="1.6 1.4" fill="none"/>
<g clip-path="url(#flc)"><g transform="matrix(0.96,0.26,-0.96,0.37,507.3,560.5)"><g filter="url(#flhot)"><rect x="-8" y="-8" width="186" height="72" fill="#4f4f4f"/><ellipse cx="23.88" cy="17.26" rx="13" ry="6" fill="url(#frg)" opacity="0.85"/><ellipse cx="117.8" cy="16.59" rx="15" ry="7" fill="url(#frg)" opacity="0.9"/></g></g></g>
<path d="M507.3,481.5V560.5" stroke="#222" stroke-width="0.8"/>
<path d="M450,493.5L507.3,481.5L671,511V601" stroke="#111" stroke-width="1.1" fill="none"/>
<path d="M450,493.0V577.5" stroke="#000" stroke-width="2" fill="none"/>
<path d="M450,577L453.3,577" stroke="#000" stroke-width="1.5" fill="none"/>
<path d="M450,574.2h6.5M450,567.25h4M450,560.3h4M450,553.35h6.5M450,546.4h4M450,539.45h4M450,532.5h6.5M450,525.55h4M450,518.6h4M450,511.65h6.5M450,504.7h4M450,497.75h4" stroke="#000" stroke-width="1.5"/>
<path d="M475.5,491.5 L477.41,501.37 L479.31,510.6 L481.22,519.2 L483.12,527.16 L485.03,534.48 L486.94,541.16 L488.84,547.21 L490.75,552.62 L492.66,557.4 L494.56,561.54 L496.47,565.04 L498.38,567.91 L500.28,570.13 L502.19,571.73 L504.09,572.68 L506,573 L507.91,572.68 L509.81,571.73 L511.72,570.13 L513.62,567.91 L515.53,565.04 L517.44,561.54 L519.34,557.4 L521.25,552.62 L523.16,547.21 L525.06,541.16 L526.97,534.48 L528.88,527.16 L530.78,519.2 L532.69,510.6 L534.59,501.37 L536.5,491.5 A30.5,5 0 0 0 475.5,491.5Z" fill="url(#bluec)"/>
<path d="M479.5,492.5 L481.16,499.89 L482.81,506.8 L484.47,513.23 L486.12,519.19 L487.78,524.67 L489.44,529.67 L491.09,534.2 L492.75,538.25 L494.41,541.82 L496.06,544.92 L497.72,547.54 L499.38,549.69 L501.03,551.36 L502.69,552.55 L504.34,553.26 L506,553.5 L507.66,553.26 L509.31,552.55 L510.97,551.36 L512.62,549.69 L514.28,547.54 L515.94,544.92 L517.59,541.82 L519.25,538.25 L520.91,534.2 L522.56,529.67 L524.22,524.67 L525.88,519.19 L527.53,513.23 L529.19,506.8 L530.84,499.89 L532.5,492.5 A26.5,5.2 0 0 0 479.5,492.5Z" fill="#1d5b4c"/>
<ellipse cx="506" cy="491.5" rx="30.5" ry="5" fill="#a4aee0"/>
<ellipse cx="506" cy="492.5" rx="26.5" ry="5.2" fill="#22a352"/>
<path d="M567.8,510 L570.05,520.6 L572.3,530.51 L574.55,539.74 L576.8,548.28 L579.05,556.14 L581.3,563.32 L583.55,569.81 L585.8,575.62 L588.05,580.75 L590.3,585.2 L592.55,588.96 L594.8,592.03 L597.05,594.42 L599.3,596.13 L601.55,597.16 L603.8,597.5 L606.05,597.16 L608.3,596.13 L610.55,594.42 L612.8,592.03 L615.05,588.96 L617.3,585.2 L619.55,580.75 L621.8,575.62 L624.05,569.81 L626.3,563.32 L628.55,556.14 L630.8,548.28 L633.05,539.74 L635.3,530.51 L637.55,520.6 L639.8,510 A36,6 0 0 0 567.8,510Z" fill="url(#bluec)"/>
<path d="M572.8,511 L574.74,519.11 L576.67,526.7 L578.61,533.77 L580.55,540.31 L582.49,546.33 L584.42,551.83 L586.36,556.8 L588.3,561.25 L590.24,565.18 L592.17,568.58 L594.11,571.46 L596.05,573.81 L597.99,575.64 L599.92,576.95 L601.86,577.74 L603.8,578 L605.74,577.74 L607.67,576.95 L609.61,575.64 L611.55,573.81 L613.49,571.46 L615.42,568.58 L617.36,565.18 L619.3,561.25 L621.24,556.8 L623.17,551.83 L625.11,546.33 L627.05,540.31 L628.99,533.77 L630.92,526.7 L632.86,519.11 L634.8,511 A31,6.8 0 0 0 572.8,511Z" fill="#1d5b4c"/>
<ellipse cx="603.8" cy="510" rx="36" ry="6" fill="#a4aee0"/>
<ellipse cx="603.8" cy="511" rx="31" ry="6.8" fill="#22a352"/>
<g clip-path="url(#cfl)" opacity="0.5"><path d="M475.5,491.5 L477.41,501.37 L479.31,510.6 L481.22,519.2 L483.12,527.16 L485.03,534.48 L486.94,541.16 L488.84,547.21 L490.75,552.62 L492.66,557.4 L494.56,561.54 L496.47,565.04 L498.38,567.91 L500.28,570.13 L502.19,571.73 L504.09,572.68 L506,573 L507.91,572.68 L509.81,571.73 L511.72,570.13 L513.62,567.91 L515.53,565.04 L517.44,561.54 L519.34,557.4 L521.25,552.62 L523.16,547.21 L525.06,541.16 L526.97,534.48 L528.88,527.16 L530.78,519.2 L532.69,510.6 L534.59,501.37 L536.5,491.5 A30.5,5 0 0 0 475.5,491.5Z" fill="#3c2a78"/><path d="M567.8,510 L570.05,520.6 L572.3,530.51 L574.55,539.74 L576.8,548.28 L579.05,556.14 L581.3,563.32 L583.55,569.81 L585.8,575.62 L588.05,580.75 L590.3,585.2 L592.55,588.96 L594.8,592.03 L597.05,594.42 L599.3,596.13 L601.55,597.16 L603.8,597.5 L606.05,597.16 L608.3,596.13 L610.55,594.42 L612.8,592.03 L615.05,588.96 L617.3,585.2 L619.55,580.75 L621.8,575.62 L624.05,569.81 L626.3,563.32 L628.55,556.14 L630.8,548.28 L633.05,539.74 L635.3,530.51 L637.55,520.6 L639.8,510 A36,6 0 0 0 567.8,510Z" fill="#3c2a78"/></g>
<ellipse cx="511" cy="571.5" rx="6.5" ry="2.8" fill="url(#tipg)" opacity="0.85"/>
<ellipse cx="604" cy="596.5" rx="7.5" ry="3.2" fill="url(#tipg)" opacity="0.9"/>
<path d="M453.3,577L617.5,626L670.5,601" stroke="#000" stroke-width="1" fill="none"/>
<path d="M458.11,578.43l-2.2,4.5M466.12,580.82l-2.2,3M474.13,583.21l-2.2,4.5M482.14,585.6l-2.2,3M490.14,588l-2.2,4.5M498.15,590.39l-2.2,3M506.16,592.78l-2.2,4.5M514.17,595.17l-2.2,3M522.18,597.56l-2.2,4.5M530.19,599.95l-2.2,3M538.2,602.34l-2.2,4.5M546.21,604.73l-2.2,3M554.22,607.12l-2.2,4.5M562.23,609.51l-2.2,3M570.24,611.9l-2.2,4.5M578.25,614.29l-2.2,3M586.26,616.68l-2.2,4.5M594.27,619.07l-2.2,3M602.28,621.46l-2.2,4.5M610.29,623.85l-2.2,3" stroke="#000" stroke-width="1.5"/>
<path d="M620.15,624.75l6.5,1.9M625.45,622.25l5,1.9M630.75,619.75l6.5,1.9M636.05,617.25l5,1.9M641.35,614.75l6.5,1.9M646.65,612.25l5,1.9M651.95,609.75l6.5,1.9M657.25,607.25l5,1.9M662.55,604.75l6.5,1.9M667.85,602.25l5,1.9" stroke="#000" stroke-width="2"/>
<path d="M491,579.8L584.6,606.7" stroke="#000" stroke-width="1.1"/>
<path d="M584.6,606.7l4,-1.5l4,-2.5" stroke="#000" stroke-width="1" stroke-dasharray="2 1.5" fill="none"/>
<path d="M491,579.8l9,0.6l-2.4,5.5z M584.6,606.7l-9,-0.6l2.4,-5.5z" fill="#000"/>
<text x="530.5" y="590.3" style="font-family:'Liberation Sans',sans-serif;font-size:15px" fill="#111">2π/a</text>
<rect x="640.7" y="532.4" width="85" height="50.2" fill="#fff" stroke="#111" stroke-width="1.2"/>
<rect x="643.3" y="534.3" width="34.6" height="17.4" fill="#13a843"/>
<rect x="643.3" y="558.3" width="34.6" height="17.4" fill="#4466b8"/>
<text x="682.5" y="549" style="font-family:'Liberation Sans',sans-serif;font-size:14px" fill="#111"><tspan style="font-style:italic">d</tspan><tspan style="font-size:10px" dy="4.5">xz</tspan><tspan dy="-4.5">/</tspan><tspan style="font-style:italic">d</tspan><tspan style="font-size:10px" dy="4.5">yz</tspan></text>
<text x="682.5" y="572.3" style="font-family:'Liberation Sans',sans-serif;font-size:14px" fill="#111"><tspan style="font-style:italic">d</tspan><tspan style="font-size:10px" dy="4.5">xy</tspan></text>
<text x="692" y="516" style="font-family:'Liberation Sans',sans-serif;font-weight:bold;font-size:18.5px" fill="#111">(f)</text>
<text transform="translate(418,527.2) skewX(-4) scale(0.66,1.0)" style="font-family:'Liberation Sans',sans-serif;font-size:25.5px" fill="#111" stroke="#111" stroke-width="0.5">0.9</text>
<text transform="translate(418,548.5) skewX(-4) scale(0.66,1.0)" style="font-family:'Liberation Sans',sans-serif;font-size:25.5px" fill="#111" stroke="#111" stroke-width="0.5">0.6</text>
<text transform="translate(418,571.3) skewX(-4) scale(0.66,1.0)" style="font-family:'Liberation Sans',sans-serif;font-size:25.5px" fill="#111" stroke="#111" stroke-width="0.5">0.3</text>
<text transform="translate(418,593.4) skewX(-4) scale(0.66,1.0)" style="font-family:'Liberation Sans',sans-serif;font-size:25.5px" fill="#111" stroke="#111" stroke-width="0.5">0.0</text>
<text transform="translate(405.3,611.5) rotate(-90) scale(1.065,1)" style="font-family:'Liberation Sans',sans-serif;font-size:28.6px" fill="#111"><tspan style="font-style:italic">E</tspan>-<tspan style="font-style:italic">E</tspan><tspan style="font-size:18px" dy="6">F</tspan><tspan dy="-6"> [eV]</tspan></text>
<text transform="translate(459,599) matrix(1.04,-0.49,0.96,0.29,0,0)" text-anchor="middle" style="font-family:'Liberation Sans',sans-serif;font-size:17.5px" fill="#000" stroke="#000" stroke-width="0.7">-1.5</text>
<text transform="translate(490.5,608) matrix(1.04,-0.49,0.96,0.29,0,0)" text-anchor="middle" style="font-family:'Liberation Sans',sans-serif;font-size:17.5px" fill="#000" stroke="#000" stroke-width="0.7">-1.0</text>
<text transform="translate(522,617.5) matrix(1.04,-0.49,0.96,0.29,0,0)" text-anchor="middle" style="font-family:'Liberation Sans',sans-serif;font-size:17.5px" fill="#000" stroke="#000" stroke-width="0.7">-0.5</text>
<text transform="translate(555,626.5) matrix(1.04,-0.49,0.96,0.29,0,0)" text-anchor="middle" style="font-family:'Liberation Sans',sans-serif;font-size:17.5px" fill="#000" stroke="#000" stroke-width="0.7">0.0</text>
<text transform="translate(587,637) matrix(1.04,-0.49,0.96,0.29,0,0)" text-anchor="middle" style="font-family:'Liberation Sans',sans-serif;font-size:17.5px" fill="#000" stroke="#000" stroke-width="0.7">0.5</text>
<text transform="translate(652,639) matrix(0.91,0.27,-0.86,0.41,0,0)" text-anchor="middle" style="font-family:'Liberation Sans',sans-serif;font-size:18px" fill="#000" stroke="#000" stroke-width="0.7">-0.4</text>
<text transform="translate(665.3,631.5) matrix(0.91,0.27,-0.86,0.41,0,0)" text-anchor="middle" style="font-family:'Liberation Sans',sans-serif;font-size:18px" fill="#000" stroke="#000" stroke-width="0.7">-0.2</text>
<text transform="translate(674.4,623) matrix(0.91,0.27,-0.86,0.41,0,0)" text-anchor="middle" style="font-family:'Liberation Sans',sans-serif;font-size:18px" fill="#000" stroke="#000" stroke-width="0.7">0.0</text>
<text transform="translate(686.1,617.1) matrix(0.91,0.27,-0.86,0.41,0,0)" text-anchor="middle" style="font-family:'Liberation Sans',sans-serif;font-size:18px" fill="#000" stroke="#000" stroke-width="0.7">0.2</text>
<text transform="translate(436,627.5) rotate(21)" style="font-family:'Liberation Sans',sans-serif;font-size:28.5px" fill="#111"><tspan style="font-style:italic">k</tspan><tspan style="font-size:19px" dy="10.5">x</tspan><tspan dy="-10.5"> [ </tspan><tspan style="font-style:italic">Å</tspan><tspan> ]</tspan></text>
<text transform="translate(676,679) matrix(0.79,-0.61,0.4,0.92,0,0)" style="font-family:'Liberation Sans',sans-serif;font-size:29px" fill="#111">K<tspan style="font-size:19px" dy="8">y</tspan><tspan dy="-8"> [ Å ]</tspan></text>
</svg>
</body></html>
